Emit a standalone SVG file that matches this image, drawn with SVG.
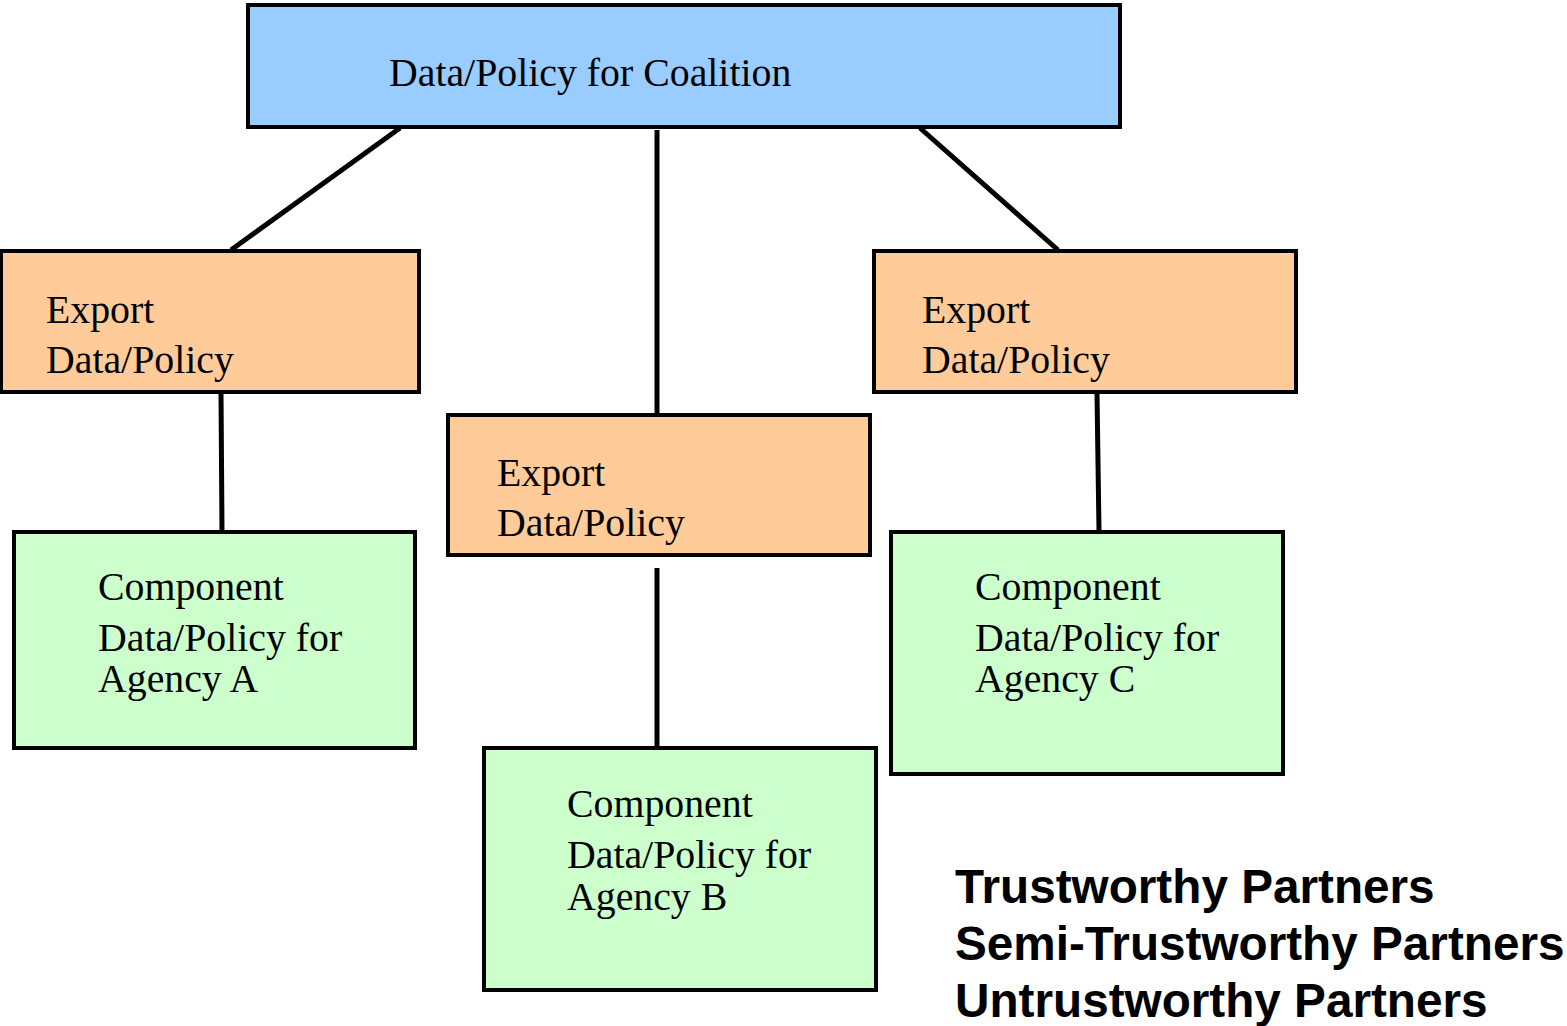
<svg xmlns="http://www.w3.org/2000/svg" width="1567" height="1026" viewBox="0 0 1567 1026">
<style>
.box{stroke:#000;stroke-width:4}
.blue{fill:#99ccff}
.orange{fill:#ffcc99}
.green{fill:#ccffcc}
.t{font-family:"Liberation Serif","Times New Roman",serif;font-size:39.8px;fill:#000}
.legend{font-family:"Liberation Sans",Arial,sans-serif;font-size:47.7px;font-weight:bold;fill:#000}
.conn{stroke:#000;stroke-width:5;fill:none}
</style>
<rect width="1567" height="1026" fill="#fff"/>
<g id="connectors">
<line class="conn" x1="400" y1="128" x2="231" y2="250"/>
<line class="conn" x1="657" y1="130" x2="657" y2="413"/>
<line class="conn" x1="920" y1="128" x2="1058" y2="250"/>
<line class="conn" x1="221" y1="393" x2="222" y2="531"/>
<line class="conn" x1="1097" y1="393" x2="1099" y2="531"/>
<line class="conn" x1="657" y1="568" x2="657" y2="747"/>
</g>
<g id="coalition">
<rect class="box blue" x="248" y="5" width="872" height="122"/>
<text class="t" x="389" y="86">Data/Policy for Coalition</text>
</g>
<g id="exportA">
<rect class="box orange" x="1" y="251" width="418" height="141"/>
<text class="t" x="46" y="323">Export</text>
<text class="t" x="46" y="373">Data/Policy</text>
</g>
<g id="exportB">
<rect class="box orange" x="448" y="415" width="422" height="140"/>
<text class="t" x="497" y="486">Export</text>
<text class="t" x="497" y="536">Data/Policy</text>
</g>
<g id="exportC">
<rect class="box orange" x="874" y="251" width="422" height="141"/>
<text class="t" x="922" y="323">Export</text>
<text class="t" x="922" y="373">Data/Policy</text>
</g>
<g id="componentA">
<rect class="box green" x="14" y="532" width="401" height="216"/>
<text class="t" x="98" y="600">Component</text>
<text class="t" x="98" y="651">Data/Policy for</text>
<text class="t" x="98" y="692">Agency A</text>
</g>
<g id="componentB">
<rect class="box green" x="484" y="748" width="392" height="242"/>
<text class="t" x="567" y="817">Component</text>
<text class="t" x="567" y="868">Data/Policy for</text>
<text class="t" x="567" y="910">Agency B</text>
</g>
<g id="componentC">
<rect class="box green" x="891" y="532" width="392" height="242"/>
<text class="t" x="975" y="600">Component</text>
<text class="t" x="975" y="651">Data/Policy for</text>
<text class="t" x="975" y="692">Agency C</text>
</g>
<g id="legend">
<text class="legend" x="955" y="903">Trustworthy Partners</text>
<text class="legend" x="955" y="960">Semi-Trustworthy Partners</text>
<text class="legend" x="955" y="1017">Untrustworthy Partners</text>
</g>
</svg>
